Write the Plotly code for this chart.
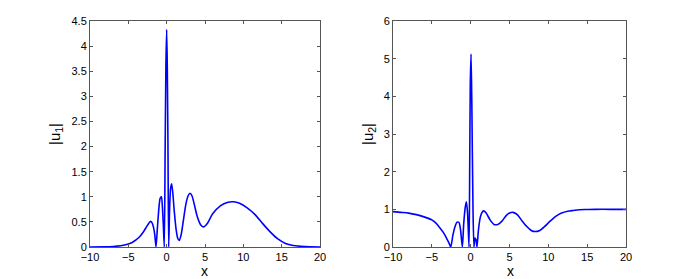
import plotly.graph_objects as go

# Left panel |u1|
x1 = [-10, -8, -7, -6, -5, -4.5, -4, -3.5, -3, -2.6, -2.3, -2.1, -1.9, -1.7, -1.55, -1.39,
      -1.2, -1.0, -0.85, -0.68, -0.55, -0.43, -0.31, -0.2, -0.1, 0.0, 0.08, 0.17, 0.26,
      0.38, 0.5, 0.65, 0.8, 1.0, 1.25, 1.45, 1.65, 1.9, 2.2, 2.5, 2.8, 3.05, 3.3, 3.6,
      4.0, 4.4, 4.8, 5.3, 6.0, 7.0, 8.0, 8.7, 9.5, 10.5, 11.5, 12.5, 13.5, 14.5, 15.5,
      16.5, 18, 20]
y1 = [0.0, 0.003, 0.01, 0.025, 0.06, 0.09, 0.14, 0.21, 0.31, 0.41, 0.48, 0.51, 0.48, 0.38,
      0.24, 0.0, 0.4, 0.8, 0.97, 1.0, 0.78, 0.42, 0.0, 1.9, 3.6, 4.33, 3.6, 2.0, 0.0,
      0.75, 1.15, 1.26, 1.08, 0.7, 0.33, 0.17, 0.13, 0.25, 0.55, 0.85, 1.02, 1.07, 1.02, 0.85,
      0.6, 0.45, 0.4, 0.47, 0.66, 0.82, 0.89, 0.9, 0.87, 0.78, 0.65, 0.47, 0.3, 0.16, 0.07,
      0.03, 0.008, 0.0]

# Right panel |u2|
x2 = [-10, -9, -8, -7, -6, -5, -4.5, -4, -3.5, -3.1, -2.8, -2.56, -2.3, -2.0, -1.75, -1.5,
      -1.3, -1.07, -0.9, -0.7, -0.55, -0.4, -0.21, -0.12, -0.05, 0.05, 0.15, 0.3, 0.42,
      0.55, 0.68, 0.81, 1.0, 1.25, 1.5, 1.7, 2.0, 2.5, 3.0, 3.5, 4.0, 4.6, 5.0, 5.45,
      6.0, 6.6, 7.2, 7.8, 8.3, 8.9, 9.5, 10.2, 11.0, 11.7, 12.5, 13.2, 14.0, 15.0, 16.0,
      18.0, 20.0]
y2 = [0.94, 0.92, 0.9, 0.86, 0.8, 0.72, 0.64, 0.52, 0.38, 0.23, 0.11, 0.0, 0.3, 0.55, 0.66, 0.65,
      0.45, 0.0, 0.6, 1.05, 1.2, 0.9, 0.0, 2.2, 4.3, 5.12, 3.8, 1.0, 0.0,
      0.24, 0.2, 0.0, 0.45, 0.8, 0.93, 0.96, 0.9, 0.72, 0.6, 0.6, 0.68, 0.84, 0.9, 0.92,
      0.86, 0.7, 0.55, 0.44, 0.41, 0.44, 0.54, 0.68, 0.82, 0.9, 0.95, 0.97, 0.99, 0.995, 1.0,
      1.0, 1.0]

xticks = [-10, -5, 0, 5, 10, 15, 20]
yticks1 = [0, 0.5, 1, 1.5, 2, 2.5, 3, 3.5, 4, 4.5]
yticks2 = [0, 1, 2, 3, 4, 5, 6]

W, H = 692, 279
fig = go.Figure()
fig.add_trace(go.Scatter(x=x1, y=y1, mode="lines", line=dict(color="#0000ff", width=1.6, shape="spline", smoothing=0.6),
                         xaxis="x", yaxis="y", showlegend=False))
fig.add_trace(go.Scatter(x=x2, y=y2, mode="lines", line=dict(color="#0000ff", width=1.6, shape="spline", smoothing=0.6),
                         xaxis="x2", yaxis="y2", showlegend=False))

font = dict(family="Liberation Sans, Arial, sans-serif", size=11, color="#000")
tfont = dict(family="Liberation Sans, Arial, sans-serif", size=15, color="#000")
xfont = dict(family="Liberation Sans, Arial, sans-serif", size=14, color="#000")
axcommon = dict(showgrid=False, zeroline=False, showline=True, linecolor="#555", linewidth=1,
                mirror="ticks", ticks="inside", ticklen=3, tickcolor="#555", tickfont=font,
                automargin=False)

ann = dict(xref="paper", yref="paper", showarrow=False, xanchor="center", yanchor="middle")
fig.update_layout(
    width=W, height=H, margin=dict(l=0, r=0, t=0, b=0),
    paper_bgcolor="white", plot_bgcolor="white",
    xaxis=dict(domain=[90 / W, 320 / W], range=[-10, 20], tickvals=xticks, anchor="y", **axcommon),
    yaxis=dict(domain=[32 / H, 258 / H], range=[0, 4.5], tickvals=yticks1, anchor="x", **axcommon),
    xaxis2=dict(domain=[393 / W, 626 / W], range=[-10, 20], tickvals=xticks, anchor="y2", **axcommon),
    yaxis2=dict(domain=[32 / H, 258 / H], range=[0, 6], tickvals=yticks2, anchor="x2", **axcommon),
    annotations=[
        dict(text="x", x=205 / W, y=(H - 271) / H, font=xfont, **ann),
        dict(text="x", x=510 / W, y=(H - 271) / H, font=xfont, **ann),
        dict(text="|u<sub>1</sub>|", x=55 / W, y=(H - 134) / H, textangle=-90, font=tfont, **ann),
        dict(text="|u<sub>2</sub>|", x=368 / W, y=(H - 134) / H, textangle=-90, font=tfont, **ann),
    ],
)

fig.write_html("out.html", config={"displayModeBar": False},
               post_script="document.body.style.margin='0';document.body.style.overflow='hidden';")
